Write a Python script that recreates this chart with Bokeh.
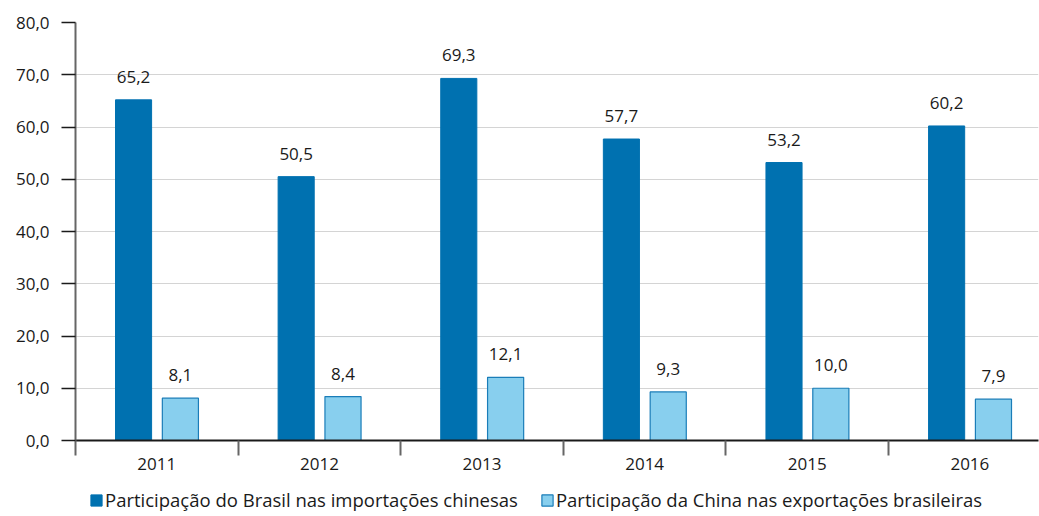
from bokeh.plotting import figure
from bokeh.layouts import column
from bokeh.models import (ColumnDataSource, Range1d, FixedTicker, Legend, LegendItem,
                          LabelSet, CustomJSTickFormatter)
from bokeh.core.properties import value
from bokeh.transform import dodge
from bokeh.embed import file_html
from bokeh.resources import INLINE

years = ["2011", "2012", "2013", "2014", "2015", "2016"]
brasil_imp = [65.2, 50.5, 69.3, 57.7, 53.2, 60.2]
china_exp = [8.1, 8.4, 12.1, 9.3, 10.0, 7.9]
y_ticks = [0, 10, 20, 30, 40, 50, 60, 70, 80]
series_names = ["Participação do Brasil nas importações chinesas",
                "Participação da China nas exportações brasileiras"]

FONT = "Open Sans"
DARK = "#0071b0"
LIGHT = "#88cfee"
LIGHT_BORDER = "#1a7db8"

centers = [i + 0.5 for i in range(len(years))]
src = ColumnDataSource(dict(
    x=centers,
    brasil=brasil_imp,
    china=china_exp,
    brasil_lbl=[f"{v:.1f}".replace(".", ",") for v in brasil_imp],
    china_lbl=[f"{v:.1f}".replace(".", ",") for v in china_exp],
))

p = figure(width=1039, height=482, output_backend="svg", toolbar_location=None,
           x_range=Range1d(0, 5.922), y_range=Range1d(0, 80),
           min_border_left=75, min_border_right=1, min_border_top=22, min_border_bottom=42)
p.outline_line_color = None
p.background_fill_color = "white"

r1 = p.vbar(x=dodge("x", -0.143, range=p.x_range), top="brasil", width=0.222, source=src,
            fill_color=DARK, line_color=DARK)
r2 = p.vbar(x=dodge("x", 0.145, range=p.x_range), top="china", width=0.222, source=src,
            fill_color=LIGHT, line_color=LIGHT_BORDER, line_width=1.2)

for col, off in (("brasil", -0.143), ("china", 0.145)):
    p.add_layout(LabelSet(x=dodge("x", off, range=p.x_range), y=col, text=col + "_lbl",
                          source=src, text_align="center", text_baseline="bottom",
                          y_offset=17, text_font=value(FONT), text_font_size="17px",
                          text_color="#1a1a1a"))

# y axis
yax = p.yaxis[0]
yax.ticker = FixedTicker(ticks=y_ticks)
yax.formatter = CustomJSTickFormatter(code="return tick.toFixed(1).replace('.', ',');")
yax.major_label_text_font = FONT
yax.major_label_text_font_size = "17px"
yax.major_label_text_color = "#1a1a1a"
yax.major_tick_out = 14
yax.major_tick_in = 0
yax.major_tick_line_color = "#1a1a1a"
yax.major_tick_line_width = 1.5
yax.minor_tick_line_color = None
yax.axis_line_color = "#666666"
yax.axis_line_width = 2
yax.major_label_standoff = 12

# x axis
xax = p.xaxis[0]
xax.ticker = FixedTicker(ticks=centers, minor_ticks=list(range(len(years))))
xax.major_label_overrides = {c: y for c, y in zip(centers, years)}
xax.major_label_text_font = FONT
xax.major_label_text_font_size = "17px"
xax.major_label_text_color = "#1a1a1a"
xax.major_tick_line_color = None
xax.major_tick_out = 0
xax.major_tick_in = 0
xax.minor_tick_out = 15
xax.minor_tick_in = 0
xax.minor_tick_line_color = "#666666"
xax.minor_tick_line_width = 2
xax.axis_line_color = "#1a1a1a"
xax.axis_line_width = 2
xax.major_label_standoff = 2

p.xgrid.grid_line_color = None
p.ygrid.ticker = FixedTicker(ticks=y_ticks)
p.ygrid.grid_line_color = "#d4d4d4"
p.ygrid.grid_line_width = 1

# legend in its own strip below the chart (frames of a column are aligned)
lf = figure(width=1039, height=34, output_backend="svg", toolbar_location=None,
            x_range=Range1d(0, 1), y_range=Range1d(0, 1),
            min_border_left=0, min_border_right=0, min_border_top=0, min_border_bottom=0,
            x_axis_type=None, y_axis_type=None)
lf.outline_line_color = None
lf.xgrid.visible = False
lf.ygrid.visible = False
# swatch renderers for the legend: zero-size bars, so only the legend swatches show
lr1 = lf.vbar(x=[0.99], bottom=[0.5], top=[0.5], width=0, fill_color=DARK, line_color=DARK)
lr2 = lf.vbar(x=[0.99], bottom=[0.5], top=[0.5], width=0, fill_color=LIGHT,
              line_color=LIGHT_BORDER, line_width=1.2)

legend = Legend(items=[
    LegendItem(label=series_names[0], renderers=[lr1]),
    LegendItem(label=series_names[1], renderers=[lr2]),
], orientation="horizontal", location=(14, 4),
    label_text_font=FONT, label_text_font_size="18.5px", label_text_color="#1a1a1a",
    glyph_width=14, glyph_height=14, label_standoff=2, spacing=22, label_height=14,
    padding=0, margin=0, border_line_color=None, background_fill_alpha=0)
lf.add_layout(legend, "center")

layout = column(p, lf, spacing=0)
open("out.html", "w").write(file_html(layout, INLINE))
